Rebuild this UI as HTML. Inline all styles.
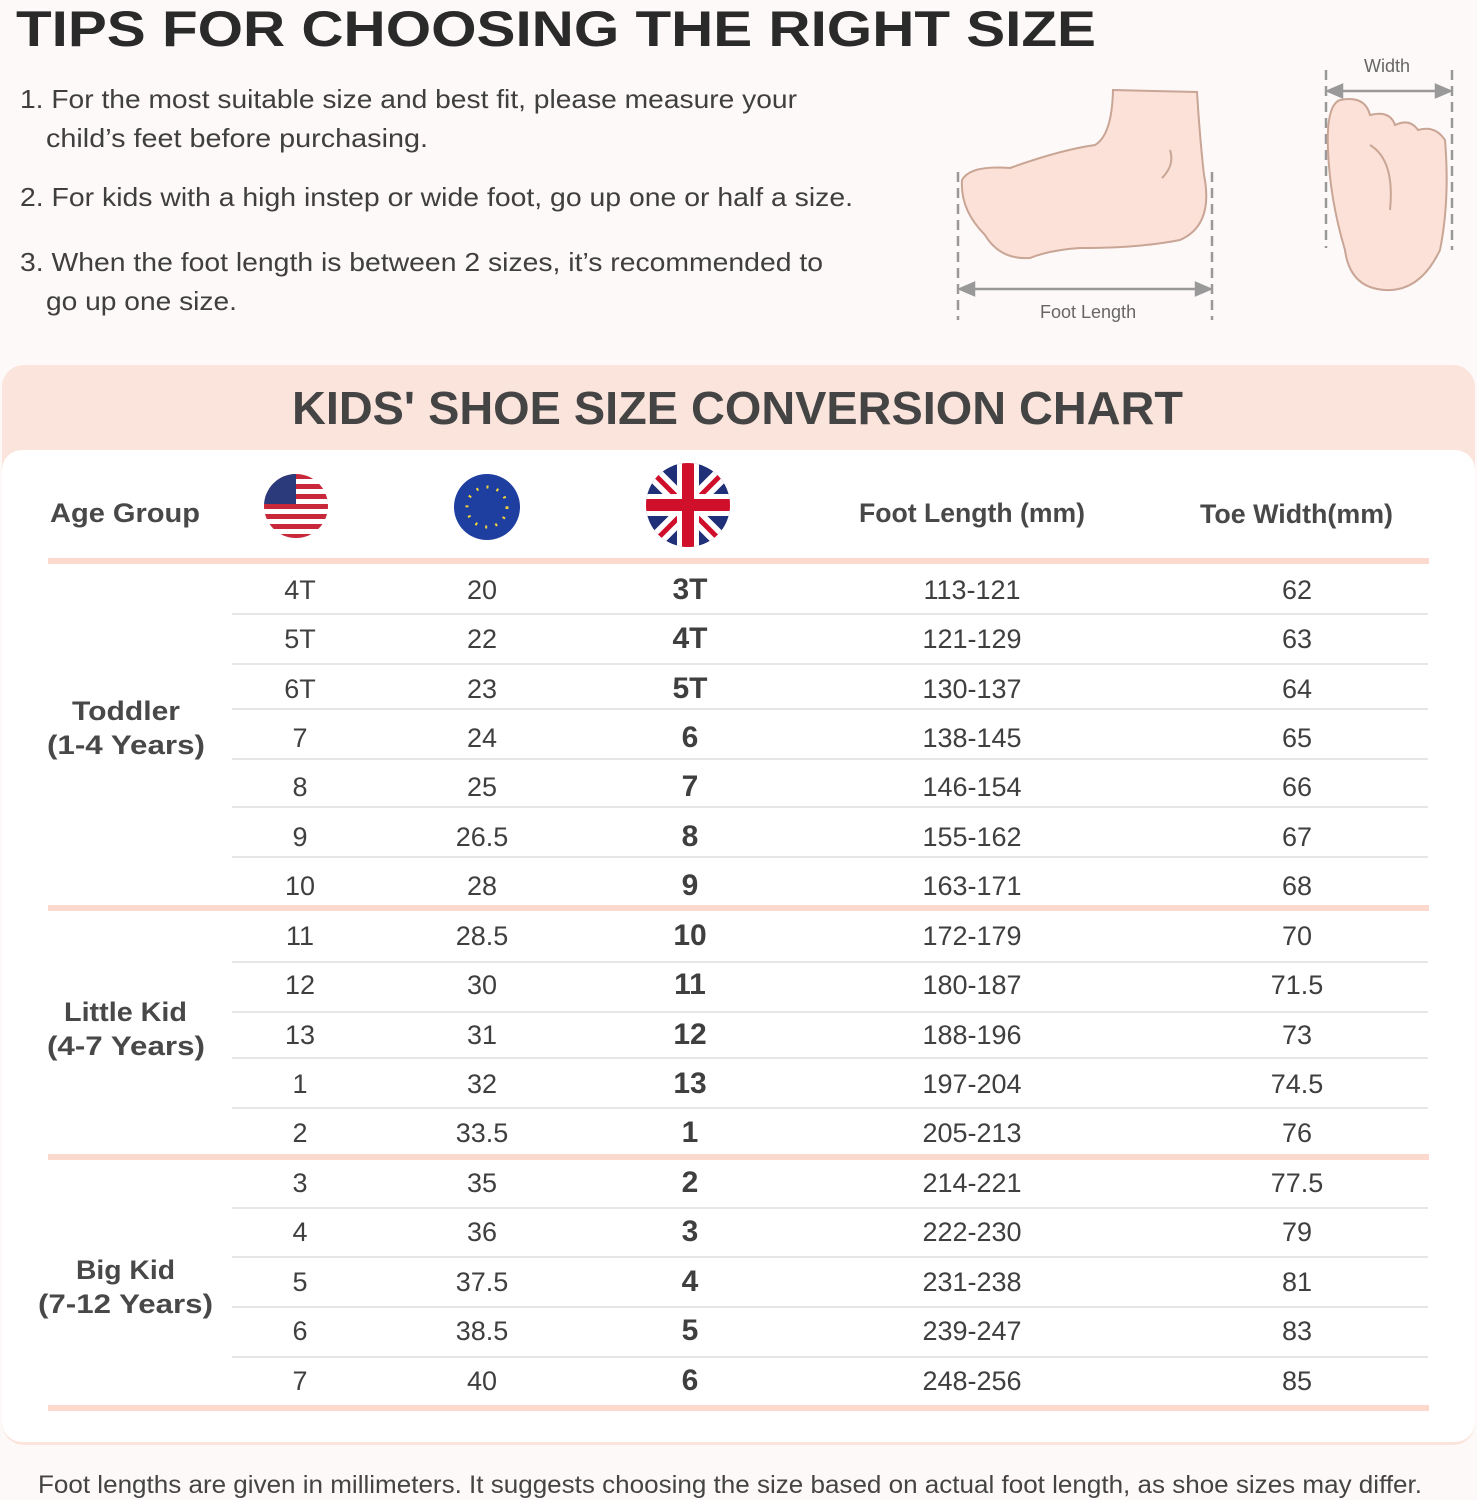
<!DOCTYPE html>
<html><head><meta charset="utf-8"><style>
html,body{margin:0;padding:0;background:#fdf9f8;}
svg{display:block}
text{font-family:"Liberation Sans",sans-serif;fill:#3f3f3f}
.b{font-weight:bold}
</style></head><body>
<svg width="1477" height="1500" viewBox="0 0 1477 1500" xmlns="http://www.w3.org/2000/svg">
<rect width="1477" height="1500" fill="#fdf9f8"/>
<text x="16" y="46" class="b" font-size="50" textLength="1080" lengthAdjust="spacingAndGlyphs" style="fill:#2a2a2a">TIPS FOR CHOOSING THE RIGHT SIZE</text>
<g font-size="26" style="fill:#444">
<text x="20" y="108" textLength="777" lengthAdjust="spacingAndGlyphs">1. For the most suitable size and best fit, please measure your</text>
<text x="46" y="147" textLength="382" lengthAdjust="spacingAndGlyphs">child’s feet before purchasing.</text>
<text x="20" y="206" textLength="833" lengthAdjust="spacingAndGlyphs">2. For kids with a high instep or wide foot, go up one or half a size.</text>
<text x="20" y="271" textLength="803" lengthAdjust="spacingAndGlyphs">3. When the foot length is between 2 sizes, it’s recommended to</text>
<text x="46" y="310" textLength="191" lengthAdjust="spacingAndGlyphs">go up one size.</text>
</g>
<g stroke="#999" stroke-width="2.5" stroke-dasharray="10,6" fill="none">
<line x1="958" y1="172" x2="958" y2="320"/><line x1="1212" y1="172" x2="1212" y2="320"/>
<line x1="1326" y1="70" x2="1326" y2="248"/><line x1="1452" y1="70" x2="1452" y2="250"/>
</g>
<path d="M1113 90 L1197 92 Q1200 140 1204 175 Q1214 225 1180 240 Q1140 248 1080 248 Q1050 250 1030 258 Q1000 260 985 235 Q960 210 962 180 Q970 165 1010 168 Q1060 150 1095 145 Q1112 135 1113 90 Z" fill="#fbe1d7" stroke="#c9a595" stroke-width="2"/>
<path d="M1170 150 Q1175 165 1162 178" stroke="#c9a595" stroke-width="2" fill="none"/>
<path d="M1340 100 Q1365 95 1370 115 Q1390 110 1395 125 Q1410 118 1418 130 Q1435 125 1445 140 Q1450 200 1440 250 Q1420 292 1385 290 Q1350 288 1345 250 Q1330 200 1328 150 Q1326 105 1340 100 Z" fill="#fbe1d7" stroke="#c9a595" stroke-width="2"/>
<path d="M1370 145 Q1395 160 1390 210" stroke="#c9a595" stroke-width="2" fill="none"/>
<g stroke="#999" stroke-width="2.5" fill="#999">
<line x1="962" y1="289" x2="1208" y2="289"/><path d="M960 289 l14 -6 v12z"/><path d="M1210 289 l-14 -6 v12z"/>
<line x1="1330" y1="91" x2="1448" y2="91"/><path d="M1328 91 l14 -6 v12z"/><path d="M1450 91 l-14 -6 v12z"/>
</g>
<text x="1040" y="318" font-size="18" style="fill:#666">Foot  Length</text>
<text x="1364" y="72" font-size="18" style="fill:#666">Width</text>
<rect x="2" y="365" width="1473" height="1080" rx="22" fill="#fbe4db"/>
<rect x="2" y="450" width="1473" height="992" rx="20" fill="#ffffff"/>
<text x="292" y="424" class="b" font-size="46" textLength="891" lengthAdjust="spacingAndGlyphs" style="fill:#444">KIDS' SHOE SIZE CONVERSION CHART</text>
<g font-size="27">
<text x="50" y="522" textLength="150" lengthAdjust="spacingAndGlyphs" style="font-weight:bold;fill:#484848">Age Group</text>
<text x="859" y="522" textLength="226" lengthAdjust="spacingAndGlyphs" style="font-weight:bold;fill:#484848">Foot Length (mm)</text>
<text x="1200" y="523" textLength="193" lengthAdjust="spacingAndGlyphs" style="font-weight:bold;fill:#484848">Toe Width(mm)</text>
</g>
<defs><clipPath id="cu"><circle cx="296" cy="506" r="32"/></clipPath><clipPath id="ck"><circle cx="688" cy="505" r="42"/></clipPath></defs>
<g clip-path="url(#cu)">
<rect x="260" y="470" width="72" height="72" fill="#fff"/>
<g fill="#c8283a"><rect x="260" y="474" width="72" height="5"/><rect x="260" y="484" width="72" height="5"/><rect x="260" y="494" width="72" height="5"/><rect x="260" y="504" width="72" height="5"/><rect x="260" y="514" width="72" height="5"/><rect x="260" y="524" width="72" height="5"/><rect x="260" y="534" width="72" height="5"/></g>
<rect x="260" y="470" width="36" height="34" fill="#2b3a7a"/>
</g>
<circle cx="487" cy="507" r="33" fill="#1f3fa0"/>
<circle cx="487" cy="507" r="20" fill="none" stroke="#f2d43a" stroke-width="3" stroke-dasharray="2,8.4"/>
<g clip-path="url(#ck)">
<rect x="640" y="460" width="96" height="96" fill="#1f2f78"/>
<path d="M640 460 L736 556 M736 460 L640 556" stroke="#fff" stroke-width="16"/>
<path d="M640 460 L736 556 M736 460 L640 556" stroke="#d0102a" stroke-width="5"/>
<rect x="640" y="494" width="96" height="22" fill="#fff"/><rect x="677" y="460" width="22" height="96" fill="#fff"/>
<rect x="640" y="499" width="96" height="12" fill="#d0102a"/><rect x="682" y="460" width="12" height="96" fill="#d0102a"/>
</g>
<g fill="#fbd9cc"><rect x="48" y="558" width="1381" height="6"/><rect x="48" y="905" width="1381" height="6"/><rect x="48" y="1154" width="1381" height="6"/><rect x="48" y="1405" width="1381" height="6"/></g>
<g stroke="#dddddd" stroke-width="1.5">
<line x1="232" y1="614" x2="1428" y2="614"/><line x1="232" y1="664" x2="1428" y2="664"/><line x1="232" y1="709" x2="1428" y2="709"/><line x1="232" y1="759" x2="1428" y2="759"/><line x1="232" y1="807" x2="1428" y2="807"/><line x1="232" y1="857" x2="1428" y2="857"/>
<line x1="232" y1="962" x2="1428" y2="962"/><line x1="232" y1="1012" x2="1428" y2="1012"/><line x1="232" y1="1058" x2="1428" y2="1058"/><line x1="232" y1="1108" x2="1428" y2="1108"/>
<line x1="232" y1="1208" x2="1428" y2="1208"/><line x1="232" y1="1257" x2="1428" y2="1257"/><line x1="232" y1="1307" x2="1428" y2="1307"/><line x1="232" y1="1357" x2="1428" y2="1357"/>
</g>
<g font-size="27">
<text x="72" y="720" textLength="108" lengthAdjust="spacingAndGlyphs" style="font-weight:bold;fill:#484848">Toddler</text><text x="47" y="754" textLength="158" lengthAdjust="spacingAndGlyphs" style="font-weight:bold;fill:#484848">(1-4 Years)</text>
<text x="64" y="1021" textLength="123" lengthAdjust="spacingAndGlyphs" style="font-weight:bold;fill:#484848">Little Kid</text><text x="47" y="1055" textLength="158" lengthAdjust="spacingAndGlyphs" style="font-weight:bold;fill:#484848">(4-7 Years)</text>
<text x="76" y="1279" textLength="99" lengthAdjust="spacingAndGlyphs" style="font-weight:bold;fill:#484848">Big Kid</text><text x="38" y="1313" textLength="175" lengthAdjust="spacingAndGlyphs" style="font-weight:bold;fill:#484848">(7-12 Years)</text>
</g>
<g text-anchor="middle" font-size="27">
<g style="fill:#4a4a4a">
<text x="300" y="599">4T</text><text x="482" y="599">20</text><text x="972" y="599">113-121</text><text x="1297" y="599">62</text>
<text x="300" y="648">5T</text><text x="482" y="648">22</text><text x="972" y="648">121-129</text><text x="1297" y="648">63</text>
<text x="300" y="698">6T</text><text x="482" y="698">23</text><text x="972" y="698">130-137</text><text x="1297" y="698">64</text>
<text x="300" y="747">7</text><text x="482" y="747">24</text><text x="972" y="747">138-145</text><text x="1297" y="747">65</text>
<text x="300" y="796">8</text><text x="482" y="796">25</text><text x="972" y="796">146-154</text><text x="1297" y="796">66</text>
<text x="300" y="846">9</text><text x="482" y="846">26.5</text><text x="972" y="846">155-162</text><text x="1297" y="846">67</text>
<text x="300" y="895">10</text><text x="482" y="895">28</text><text x="972" y="895">163-171</text><text x="1297" y="895">68</text>
<text x="300" y="945">11</text><text x="482" y="945">28.5</text><text x="972" y="945">172-179</text><text x="1297" y="945">70</text>
<text x="300" y="994">12</text><text x="482" y="994">30</text><text x="972" y="994">180-187</text><text x="1297" y="994">71.5</text>
<text x="300" y="1044">13</text><text x="482" y="1044">31</text><text x="972" y="1044">188-196</text><text x="1297" y="1044">73</text>
<text x="300" y="1093">1</text><text x="482" y="1093">32</text><text x="972" y="1093">197-204</text><text x="1297" y="1093">74.5</text>
<text x="300" y="1142">2</text><text x="482" y="1142">33.5</text><text x="972" y="1142">205-213</text><text x="1297" y="1142">76</text>
<text x="300" y="1192">3</text><text x="482" y="1192">35</text><text x="972" y="1192">214-221</text><text x="1297" y="1192">77.5</text>
<text x="300" y="1241">4</text><text x="482" y="1241">36</text><text x="972" y="1241">222-230</text><text x="1297" y="1241">79</text>
<text x="300" y="1291">5</text><text x="482" y="1291">37.5</text><text x="972" y="1291">231-238</text><text x="1297" y="1291">81</text>
<text x="300" y="1340">6</text><text x="482" y="1340">38.5</text><text x="972" y="1340">239-247</text><text x="1297" y="1340">83</text>
<text x="300" y="1390">7</text><text x="482" y="1390">40</text><text x="972" y="1390">248-256</text><text x="1297" y="1390">85</text>
</g>
<g font-size="30" style="font-weight:bold;fill:#333">
<text x="690" y="599">3T</text><text x="690" y="648">4T</text><text x="690" y="698">5T</text><text x="690" y="747">6</text><text x="690" y="796">7</text><text x="690" y="846">8</text><text x="690" y="895">9</text>
<text x="690" y="945">10</text><text x="690" y="994">11</text><text x="690" y="1044">12</text><text x="690" y="1093">13</text><text x="690" y="1142">1</text>
<text x="690" y="1192">2</text><text x="690" y="1241">3</text><text x="690" y="1291">4</text><text x="690" y="1340">5</text><text x="690" y="1390">6</text>
</g>
</g>
<text x="38" y="1493" font-size="25" textLength="1384" lengthAdjust="spacingAndGlyphs" style="fill:#444">Foot lengths are given in millimeters. It suggests choosing the size based on actual foot length, as shoe sizes may differ.</text>
</svg>
</body></html>
